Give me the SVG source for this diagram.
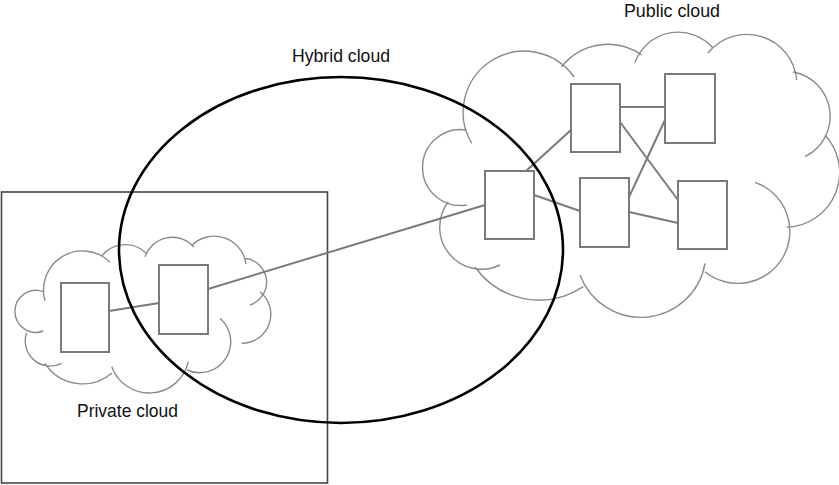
<svg xmlns="http://www.w3.org/2000/svg" width="839" height="485" viewBox="0 0 839 485">
<style>
.cloud{fill:none;stroke:#8a8a8a;stroke-width:1.4}
.box{fill:#fff;stroke:#7a7a7a;stroke-width:2}
.link{stroke:#7a7a7a;stroke-width:2;fill:none}
.lbl{font-family:"Liberation Sans",Arial,sans-serif;font-size:19px;fill:#111}
</style>
<rect width="839" height="485" fill="#fff"/>
<g id="private-area">
<rect x="1.5" y="192" width="326" height="291" fill="none" stroke="#444" stroke-width="1.6"/>
</g>
<g id="private-cloud">
<path class="cloud" d="M45,300.7 A39,39 0 0 1 110,262.3 M101.7,256 A30,30 0 0 1 147,254 M145,256.7 A29,29 0 0 1 194,247 M191.7,245.5 A32,32 0 0 1 246,264 M245,258.3 A24,24 0 0 1 250,305 M260,291.7 A29,29 0 0 1 241.7,343.3 M220,318.3 A31,31 0 0 1 187,370 M188.3,361.7 A40,40 0 0 1 111.7,366.7 M112,373 A45,45 0 0 1 45,363.3 M61.7,363.3 A25,25 0 0 1 26.7,332.7 M43.3,331 A21,21 0 1 1 43.3,291.7"/>
<text class="lbl" x="77" y="417" textLength="101" lengthAdjust="spacingAndGlyphs">Private cloud</text>
</g>
<g id="public-cloud">
<path class="cloud" d="M471.7,143.3 A61,61 0 0 1 574,77 M561.7,66.7 A59,59 0 0 1 641.7,55 M635,62.5 A46,46 0 0 1 713,48 M708,53 A50,50 0 0 1 796.7,80 M793,72 A45,45 0 0 1 805,156.7 M825,135 A55,55 0 0 1 786.7,227.3 M755,182.3 A52,52 0 1 1 705,271.7 M705,263.3 A65,65 0 0 1 580,275 M583.3,286.7 A79,79 0 0 1 475,267 M500,265 A42,42 0 0 1 448.3,201.7 M466.7,205 A38,38 0 1 1 466.7,130"/>
<text class="lbl" x="624" y="17" textLength="96" lengthAdjust="spacingAndGlyphs">Public cloud</text>
</g>
<g id="connectors">
<line class="link" x1="109" y1="311" x2="159" y2="303"/>
<line class="link" x1="208" y1="289" x2="485" y2="205"/>
<line class="link" x1="526" y1="171" x2="571" y2="130"/>
<line class="link" x1="534" y1="195" x2="580" y2="211"/>
<line class="link" x1="620" y1="107" x2="665" y2="107"/>
<line class="link" x1="620" y1="122" x2="678" y2="200"/>
<line class="link" x1="665" y1="120" x2="629" y2="197"/>
<line class="link" x1="629" y1="212" x2="678" y2="223"/>
</g>
<g id="node-p1"><rect class="box" x="61" y="283" width="48" height="69"/></g>
<g id="node-p2"><rect class="box" x="159" y="265" width="49" height="69"/></g>
<g id="node-a"><rect class="box" x="485" y="171" width="49" height="68"/></g>
<g id="node-b"><rect class="box" x="571" y="84" width="49" height="68"/></g>
<g id="node-c"><rect class="box" x="665" y="74" width="50" height="69"/></g>
<g id="node-d"><rect class="box" x="580" y="178" width="49" height="69"/></g>
<g id="node-e"><rect class="box" x="678" y="181" width="49" height="68"/></g>
<g id="hybrid-cloud">
<ellipse cx="341" cy="250" rx="222" ry="173" fill="none" stroke="#000" stroke-width="2.6"/>
<text class="lbl" x="292" y="62" textLength="98" lengthAdjust="spacingAndGlyphs">Hybrid cloud</text>
</g>
</svg>
